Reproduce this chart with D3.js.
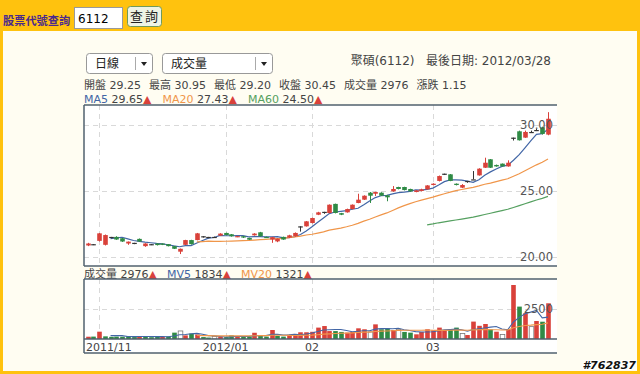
<!DOCTYPE html>
<html>
<head>
<meta charset="utf-8">
<script src="https://cdn.jsdelivr.net/npm/d3@7"></script>
<style>
  body { margin: 0; background: #fff; }
  svg text { font-family: "DejaVu Sans", "Noto Sans CJK TC", sans-serif; }
</style>
</head>
<body>
<svg id="chart" width="640" height="374"></svg>
<script>
// daily candles, 2011/11 - 2012/03/28
var opens = [20.85,20.95,21.20,20.90,21.50,21.50,21.40,21.00,21.05,21.35,
  20.80,20.95,21.00,21.00,20.95,20.80,20.38,20.90,21.26,21.26,
  21.55,21.50,21.50,21.60,21.80,21.70,21.50,21.55,21.42,21.62,
  21.85,21.50,21.30,21.16,21.50,21.45,21.55,22.30,22.30,22.55,
  23.18,23.40,23.31,24.00,23.30,23.36,23.61,24.07,24.32,24.85,
  24.77,24.85,24.65,24.95,25.28,25.28,25.13,24.90,24.98,25.10,
  25.43,25.74,26.29,26.24,25.53,25.23,25.74,25.86,26.16,26.74,
  27.38,26.95,27.05,26.84,29.02,29.50,29.02,29.45,29.60,29.80,
  29.25];
var highs = [21.05,20.95,21.80,21.68,21.50,21.55,21.42,21.15,21.05,21.38,
  21.02,20.95,21.02,21.00,20.96,20.82,20.62,21.28,21.28,21.80,
  21.55,21.50,21.52,21.78,21.82,21.72,21.58,21.56,21.44,21.78,
  21.88,21.52,21.50,21.38,21.52,21.66,21.84,22.30,22.70,22.96,
  23.40,23.40,23.96,24.02,23.32,23.64,23.96,24.77,24.65,24.90,
  24.92,24.88,24.68,25.35,25.30,25.30,25.15,25.05,25.15,25.42,
  25.56,26.15,26.29,26.26,25.55,25.50,25.74,26.49,26.70,27.50,
  27.40,26.98,27.06,27.30,29.02,29.55,29.55,29.55,29.68,29.85,
  30.95];
var lows = [20.80,20.88,21.15,20.85,21.40,21.28,21.12,20.90,20.95,21.12,
  20.75,20.88,20.85,20.88,20.78,20.58,20.20,20.88,20.92,21.24,
  21.45,21.40,21.48,21.58,21.62,21.52,21.48,21.42,21.27,21.60,
  21.52,21.42,21.05,21.10,21.28,21.42,21.52,21.90,22.28,22.52,
  23.15,23.25,23.28,23.28,23.15,23.34,23.58,24.05,24.30,24.07,
  24.60,24.60,24.20,24.92,25.10,25.02,24.92,24.88,24.95,25.08,
  25.40,25.70,26.20,25.72,25.40,25.20,25.60,25.86,26.14,26.72,
  26.72,26.82,26.84,26.82,28.80,28.80,29.00,29.38,29.52,29.25,
  29.20];
var closes = [21.00,20.95,21.77,21.64,21.50,21.30,21.15,21.14,21.05,21.15,
  21.00,20.95,20.88,20.90,20.80,20.60,20.60,21.26,20.95,21.77,
  21.55,21.50,21.50,21.75,21.64,21.55,21.56,21.45,21.29,21.75,
  21.55,21.45,21.48,21.36,21.30,21.62,21.80,22.30,22.68,22.93,
  23.36,23.40,23.94,23.31,23.18,23.61,23.94,24.32,24.62,24.62,
  24.90,24.62,24.50,25.13,25.13,25.05,24.95,25.02,25.10,25.40,
  25.53,26.11,26.29,25.74,25.43,25.43,25.74,25.86,26.67,27.12,
  26.74,26.84,26.84,27.12,29.02,28.82,29.45,29.45,29.60,29.30,
  30.45];
var volumes = [190,200,610,220,180,200,190,250,160,250,
  220,150,190,180,210,530,670,300,450,380,
  160,120,220,190,160,300,170,220,200,520,
  260,200,750,260,200,350,420,560,560,600,
  950,1080,660,660,590,530,590,890,810,590,
  1220,810,890,750,810,590,530,390,590,810,
  720,950,720,780,950,460,330,1450,1100,1250,
  800,610,380,810,4500,2700,2150,1030,1500,1440,
  2976];

// month ticks (candle index where the month starts)
var tickIndex = [2, 24, 39, 60];
var tickLabels = ["2011/11", "2012/01", "02", "03"];
var priceTicks = [20, 25, 30];
var volumeTicks = [2500];

// header texts
var stockTitle = "聚碩(6112)";
var lastDate = "2012/03/28";
var quoteNames = ["開盤", "最高", "最低", "收盤", "成交量", "漲跌"];
var quoteValues = ["29.25", "30.95", "29.20", "30.45", "2976", "1.15"];
var maNames = ["MA5", "MA20", "MA60"];
var maValues = ["29.65", "27.43", "24.50"];
var mvNames = ["成交量", "MV5", "MV20"];
var mvValues = ["2976", "1834", "1321"];

var RED = "#d9413a", GREEN = "#2f8a45", DOJI = "#333";
var maColors = ["#4266a6", "#f0964a", "#55a060"];
var mvColors = ["#444", "#4266a6", "#f0964a"];
var frameColor = "#51606e";

var svg = d3.select("#chart");

// page background: orange bar + cream panel
svg.append("rect").attr("width", 640).attr("height", 374).attr("fill", "#ffc20e");
svg.append("rect").attr("x", 3).attr("y", 31).attr("width", 634).attr("height", 340)
  .attr("fill", "#fffdf2");

// search bar
svg.append("text").attr("x", 3).attr("y", 25).attr("font-size", 11.2)
  .attr("font-weight", "bold").attr("fill", "#4b2a8c").text("股票代號查詢");
svg.append("rect").attr("x", 74.5).attr("y", 7.5).attr("width", 48).attr("height", 21)
  .attr("fill", "#fff").attr("stroke", "#999");
svg.append("text").attr("x", 78).attr("y", 23).attr("font-size", 12)
  .attr("fill", "#000").text("6112");
svg.append("rect").attr("x", 127.5).attr("y", 6.5).attr("width", 34).attr("height", 20)
  .attr("rx", 3).attr("fill", "#eef3e6").attr("stroke", "#6f9a5c");
svg.append("text").attr("x", 145).attr("y", 21).attr("font-size", 13)
  .attr("text-anchor", "middle").attr("fill", "#222").attr("letter-spacing", 2).text("查詢");

// drop down boxes
function dropBox(x, w, label) {
  svg.append("rect").attr("x", x + 0.5).attr("y", 53.5).attr("width", w).attr("height", 20)
    .attr("rx", 3).attr("fill", "#fff").attr("stroke", "#999");
  svg.append("line").attr("x1", x + w - 16.5).attr("x2", x + w - 16.5)
    .attr("y1", 57).attr("y2", 70).attr("stroke", "#aaa");
  svg.append("path")
    .attr("d", "M" + (x + w - 11) + ",62 l6,0 l-3,4 z").attr("fill", "#222");
  svg.append("text").attr("x", x + 9).attr("y", 68).attr("font-size", 12)
    .attr("fill", "#222").text(label);
}
dropBox(86, 66, "日線");
dropBox(162, 110, "成交量");

svg.append("text").attr("x", 551).attr("y", 65).attr("font-size", 12)
  .attr("text-anchor", "end").attr("fill", "#444")
  .attr("xml:space", "preserve")
  .text(stockTitle + "   最後日期: " + lastDate);

// flow a row of legend items, each built from tspans
function legendRow(y, items, gap) {
  var x = 84;
  items.forEach(function(parts) {
    var t = svg.append("text").attr("x", x).attr("y", y).attr("font-size", 11);
    parts.forEach(function(p) {
      t.append("tspan").attr("fill", p.color).text(p.text);
    });
    x += t.node().getComputedTextLength() + gap;
  });
}

legendRow(89, quoteNames.map(function(n, i) {
  return [{ text: n + " " + quoteValues[i], color: "#444" }];
}), 8);

legendRow(103, maNames.map(function(n, i) {
  return [{ text: n, color: maColors[i] }, { text: " " + maValues[i], color: "#444" },
    { text: "▲", color: RED }];
}), 11);

legendRow(278, mvNames.map(function(n, i) {
  return [{ text: n, color: mvColors[i] }, { text: " " + mvValues[i], color: "#444" },
    { text: "▲", color: RED }];
}), 10);

// panels
var left = 84, right = 557;
var priceTop = 105, priceBottom = 266;
var volTop = 279, volBottom = 339, axisBottom = 353;

svg.append("rect").attr("x", left).attr("y", priceTop)
  .attr("width", right - left).attr("height", priceBottom - priceTop).attr("fill", "#fff");
svg.append("rect").attr("x", left).attr("y", volTop)
  .attr("width", right - left).attr("height", axisBottom - volTop).attr("fill", "#fff");

var defs = svg.append("defs");
defs.append("clipPath").attr("id", "clipPrice").append("rect")
  .attr("x", left).attr("y", priceTop).attr("width", right - left).attr("height", priceBottom - priceTop);
defs.append("clipPath").attr("id", "clipVol").append("rect")
  .attr("x", left).attr("y", volTop).attr("width", right - left).attr("height", volBottom - volTop);

// scales
var x = d3.scaleLinear().domain([0, closes.length - 1]).range([87.5, 548]);
var yPrice = d3.scaleLinear().domain([20, 30]).range([256.7, 124.7]);
var yVol = d3.scaleLinear().domain([0, 2500]).range([volBottom, 309]);
var barW = 4.6;

// grid lines
var gridColor = "#d9d9d9";
svg.selectAll("line.vgrid-p").data(tickIndex).enter().append("line")
  .attr("x1", function(d) { return Math.round(x(d)) + 0.5; })
  .attr("x2", function(d) { return Math.round(x(d)) + 0.5; })
  .attr("y1", priceTop).attr("y2", priceBottom)
  .attr("stroke", gridColor).attr("stroke-dasharray", "5,4");
svg.selectAll("line.vgrid-v").data(tickIndex).enter().append("line")
  .attr("x1", function(d) { return Math.round(x(d)) + 0.5; })
  .attr("x2", function(d) { return Math.round(x(d)) + 0.5; })
  .attr("y1", volTop).attr("y2", volBottom)
  .attr("stroke", gridColor).attr("stroke-dasharray", "5,4");
svg.selectAll("line.hgrid-p").data(priceTicks).enter().append("line")
  .attr("x1", left).attr("x2", right)
  .attr("y1", function(d) { return Math.round(yPrice(d)) + 0.5; })
  .attr("y2", function(d) { return Math.round(yPrice(d)) + 0.5; })
  .attr("stroke", gridColor).attr("stroke-dasharray", "5,4");
svg.selectAll("line.hgrid-v").data(volumeTicks).enter().append("line")
  .attr("x1", left).attr("x2", right)
  .attr("y1", function(d) { return Math.round(yVol(d)) + 0.5; })
  .attr("y2", function(d) { return Math.round(yVol(d)) + 0.5; })
  .attr("stroke", gridColor).attr("stroke-dasharray", "5,4");

// moving average helper
function movingAvg(values, n) {
  var out = [];
  for (var i = n - 1; i < values.length; i++) {
    out.push({ i: i, v: d3.mean(values.slice(i - n + 1, i + 1)) });
  }
  return out;
}

var candles = closes.map(function(c, i) {
  return { i: i, o: opens[i], h: highs[i], l: lows[i], c: c, v: volumes[i],
    prev: i > 0 ? closes[i - 1] : opens[i] };
});
function candleColor(d) {
  if (d.c > d.o) return RED;
  if (d.c < d.o) return GREEN;
  return DOJI;
}

var pricePlot = svg.append("g").attr("clip-path", "url(#clipPrice)");

// moving average lines
[5, 20, 60].forEach(function(n, k) {
  var line = d3.line()
    .x(function(d) { return x(d.i); })
    .y(function(d) { return yPrice(d.v); });
  pricePlot.append("path").datum(movingAvg(closes, n))
    .attr("d", line).attr("fill", "none")
    .attr("stroke", maColors[k]).attr("stroke-width", 1.2);
});

// candles
var cg = pricePlot.selectAll("g.candle").data(candles).enter().append("g");
cg.append("line")
  .attr("x1", function(d) { return Math.round(x(d.i)) + 0.5; })
  .attr("x2", function(d) { return Math.round(x(d.i)) + 0.5; })
  .attr("y1", function(d) { return yPrice(d.h); })
  .attr("y2", function(d) { return yPrice(d.l); })
  .attr("stroke", candleColor);
cg.append("rect")
  .attr("x", function(d) { return Math.round(x(d.i)) + 0.5 - barW / 2; })
  .attr("y", function(d) { return yPrice(Math.max(d.o, d.c)); })
  .attr("width", barW)
  .attr("height", function(d) { return Math.max(1.2, Math.abs(yPrice(d.o) - yPrice(d.c))); })
  .attr("fill", candleColor);

// volume bars
var volPlot = svg.append("g").attr("clip-path", "url(#clipVol)");
function volColor(d) {
  if (d.c > d.prev) return RED;
  if (d.c < d.prev) return GREEN;
  return "#fff";
}
volPlot.selectAll("rect.vol").data(candles).enter().append("rect")
  .attr("x", function(d) { return Math.round(x(d.i)) + 0.5 - barW / 2; })
  .attr("y", function(d) { return yVol(d.v); })
  .attr("width", barW)
  .attr("height", function(d) { return volBottom - yVol(d.v); })
  .attr("fill", volColor)
  .attr("stroke", function(d) { return volColor(d) === "#fff" ? "#777" : "none"; })
  .attr("stroke-width", 0.8);

[5, 20].forEach(function(n, k) {
  var line = d3.line()
    .x(function(d) { return x(d.i); })
    .y(function(d) { return yVol(d.v); });
  volPlot.append("path").datum(movingAvg(volumes, n))
    .attr("d", line).attr("fill", "none")
    .attr("stroke", mvColors[k + 1]).attr("stroke-width", 1.1);
});

// frame lines
var frame = [
  [left, priceTop, right, priceTop], [left, priceTop, left, priceBottom],
  [left, priceBottom, right, priceBottom],
  [left, volTop, right, volTop], [left, volTop, left, axisBottom],
  [left, volBottom, right, volBottom], [left, axisBottom, right, axisBottom]
];
svg.selectAll("line.frame").data(frame).enter().append("line")
  .attr("x1", function(d) { return d[0]; }).attr("y1", function(d) { return d[1]; })
  .attr("x2", function(d) { return d[2]; }).attr("y2", function(d) { return d[3]; })
  .attr("stroke", frameColor).attr("stroke-width", 1.5);

// axis labels
svg.selectAll("text.ptick").data(priceTicks).enter().append("text")
  .attr("x", 553).attr("y", function(d) { return yPrice(d) + 4; })
  .attr("text-anchor", "end").attr("font-size", 11.5).attr("fill", "#555")
  .text(function(d) { return d3.format(".2f")(d); });
svg.selectAll("text.vtick").data(volumeTicks).enter().append("text")
  .attr("x", 553).attr("y", function(d) { return yVol(d) + 4; })
  .attr("text-anchor", "end").attr("font-size", 11.5).attr("fill", "#555")
  .text(function(d) { return d; });

svg.selectAll("text.xtick").data(tickIndex).enter().append("text")
  .attr("y", 351).attr("font-size", 11).attr("fill", "#444")
  .attr("text-anchor", "middle")
  .attr("x", function(d, i) { return x(d); })
  .text(function(d, i) { return tickLabels[i]; })
  .each(function() {
    // keep first label inside the frame
    var w = this.getComputedTextLength();
    var cx = +this.getAttribute("x");
    if (cx - w / 2 < left + 2) this.setAttribute("x", left + 2 + w / 2);
  });

// watermark
svg.append("text").attr("x", 636).attr("y", 369).attr("text-anchor", "end")
  .attr("font-size", 11).attr("font-weight", "bold").attr("font-style", "italic")
  .attr("fill", "#111").attr("stroke", "#fff").attr("stroke-width", 2)
  .attr("paint-order", "stroke").text("#762837");
</script>
</body>
</html>
